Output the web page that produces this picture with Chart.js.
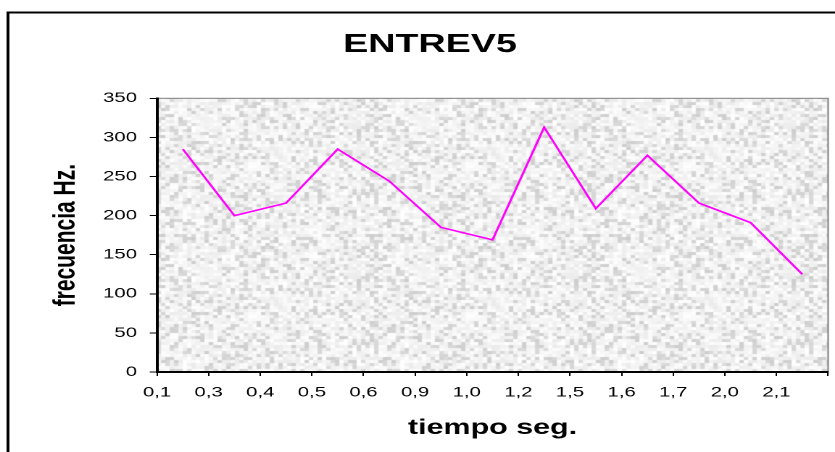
<!DOCTYPE html>
<html>
<head>
<meta charset="utf-8">
<script src="https://cdn.jsdelivr.net/npm/chart.js@4.4.1/dist/chart.umd.min.js"></script>
<style>
  body { margin: 0; background: #fff; overflow: hidden; }
  /* the source picture is an Excel chart stretched sideways, so stretch the canvas the same way */
  #chart { display: block; transform: scaleX(1.4497); transform-origin: 0 0; }
</style>
</head>
<body>
<canvas id="chart" width="576" height="452"></canvas>
<script>
const tiempos = ['0,1','0,3','0,4','0,5','0,6','0,9','1,0','1,2','1,5','1,6','1,7','2,0','2,1'];
const frecuencias = [285, 200, 216, 285, 244, 185, 169, 313, 209, 277, 216, 191, 125];
const yMin = 0, yMax = 350, yStep = 50;

const FONT = "'Liberation Sans', Arial, sans-serif";

// speckled grey fill like the granite texture behind the plot
function makeTexture() {
  const c = document.createElement('canvas');
  c.width = 150; c.height = 150;
  const g = c.getContext('2d');
  g.fillStyle = '#e9e9e9';
  g.fillRect(0, 0, 150, 150);
  const hash = i => { const s = Math.sin(i * 12.9898 + 78.233) * 43758.5453; return s - Math.floor(s); };
  for (let y = 0; y < 150; y += 3) {
    for (let x = 0; x < 150; x += 3) {
      const r = hash(y * 151 + x);
      const v = Math.round(r < 0.25 ? 205 + r * 60 : 228 + r * 27);
      g.fillStyle = `rgb(${v},${v},${v})`;
      g.fillRect(x, y, 3, 3);
    }
  }
  return c;
}

const frame = {
  id: 'frame',
  beforeDraw(chart) {
    const { ctx, chartArea: a } = chart;
    ctx.save();
    ctx.fillStyle = ctx.createPattern(makeTexture(), 'repeat');
    ctx.fillRect(a.left, a.top, a.right - a.left, a.bottom - a.top);
    ctx.strokeStyle = '#7f7f7f';
    ctx.lineWidth = 1;
    ctx.strokeRect(a.left, a.top, a.right - a.left, a.bottom - a.top);
    // outer chart border (left + top, runs off the picture)
    ctx.strokeStyle = '#000';
    ctx.lineWidth = 2;
    ctx.beginPath();
    ctx.moveTo(5.5, chart.height);
    ctx.lineTo(5.5, 12.5);
    ctx.lineTo(chart.width, 12.5);
    ctx.stroke();
    ctx.restore();
  }
};

new Chart(document.getElementById('chart'), {
  type: 'line',
  data: {
    labels: tiempos,
    datasets: [{
      data: frecuencias,
      borderColor: '#ff00ff',
      borderWidth: 1.6,
      pointRadius: 0,
      tension: 0,
      fill: false
    }]
  },
  options: {
    responsive: false,
    animation: false,
    devicePixelRatio: 2,
    layout: { padding: { left: 22, right: 4.8, top: 0, bottom: 0 } },
    plugins: {
      legend: { display: false },
      tooltip: { enabled: false },
      title: {
        display: true,
        text: 'ENTREV5',
        color: '#000',
        font: { family: FONT, size: 26, weight: 'bold' },
        padding: { top: 29, bottom: 38.1 }
      }
    },
    scales: {
      x: {
        offset: true,
        afterFit: s => { s.height = 80; },
        grid: { offset: true, drawOnChartArea: false, color: '#000', tickLength: 4, lineWidth: 1 },
        border: { color: '#000', width: 2 },
        ticks: {
          color: '#000',
          font: { family: FONT, size: 14 },
          padding: 8,
          labelOffset: -17.8,
          autoSkip: false,
          maxRotation: 0
        },
        title: {
          display: true,
          text: 'tiempo seg.',
          color: '#000',
          font: { family: FONT, size: 21, weight: 'bold' },
          padding: { top: 0, bottom: 11 }
        }
      },
      y: {
        min: yMin,
        max: yMax,
        afterFit: s => { s.width = 86.3; },
        grid: { drawOnChartArea: false, color: '#000', tickLength: 5, lineWidth: 1 },
        border: { color: '#000', width: 2 },
        ticks: {
          stepSize: yStep,
          color: '#000',
          font: { family: FONT, size: 14 },
          padding: 8.8
        },
        title: {
          display: true,
          text: 'frecuencia Hz.',
          color: '#000',
          font: { family: FONT, size: 21, weight: 'bold' },
          padding: { top: 11, bottom: 0 }
        }
      }
    }
  },
  plugins: [frame]
});
</script>
</body>
</html>
